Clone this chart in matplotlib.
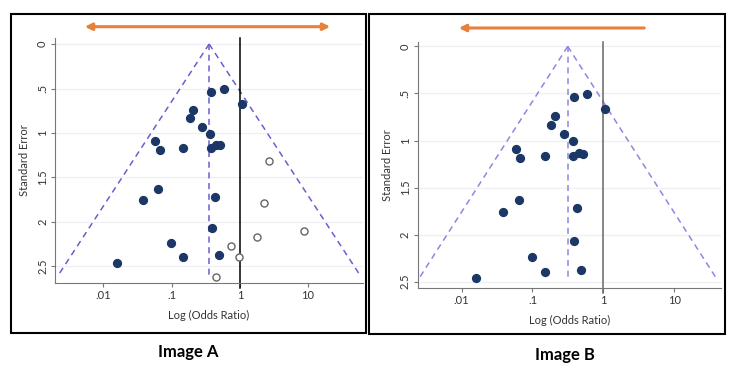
import numpy as np
import matplotlib.pyplot as plt
from matplotlib.patches import Rectangle, FancyArrowPatch

plt.rcParams['font.family'] = ['Lato', 'DejaVu Sans']

# observed studies (odds ratio, standard error) - shown in both panels
study_or = [0.38, 0.585, 1.07, 0.205, 0.184, 0.277, 0.37, 0.058, 0.067, 0.148, 0.377,
            0.453, 0.508, 0.064, 0.038, 0.43, 0.39, 0.098, 0.149, 0.49, 0.016]
study_se = [0.54, 0.51, 0.67, 0.74, 0.83, 0.93, 1.01, 1.085, 1.19, 1.165, 1.165,
            1.135, 1.14, 1.635, 1.755, 1.72, 2.07, 2.24, 2.395, 2.375, 2.465]

# imputed (filled) studies - panel A only
filled_or = [2.72, 2.25, 8.6, 1.76, 0.755, 0.966, 0.45]
filled_se = [1.318, 1.783, 2.10, 2.17, 2.273, 2.397, 2.614]

pooled_a = 0.355
pooled_b = 0.314

xticks = [0.01, 0.1, 1, 10]
xtick_labels = ['.01', '.1', '1', '10']
yticks = [0, 0.5, 1, 1.5, 2, 2.5]
ytick_labels = ['0', '.5', '1', '1.5', '2', '2.5']

fig = plt.figure(figsize=(7.37, 3.75), dpi=100)
W, H = 737, 375


def fig_rect(x0, y0, x1, y1):
    # pixel box (top-left origin) -> figure fraction
    return [x0 / W, 1 - y1 / H, (x1 - x0) / W, (y1 - y0) / H]


def funnel(ax, pooled, se_max, xlim, ylim, funnel_color, ref_color):
    se = np.array([0, se_max])
    ax.plot(np.exp(np.log(pooled) - 1.96 * se), se, ls=(0, (4, 3)), color=funnel_color, lw=1.1)
    ax.plot(np.exp(np.log(pooled) + 1.96 * se), se, ls=(0, (4, 3)), color=funnel_color, lw=1.1)
    ax.plot([pooled, pooled], [0, se_max], ls=(0, (4, 3)), color=funnel_color, lw=1.1)
    ax.axvline(1, color=ref_color, lw=1.1, ymin=-0.02, clip_on=False)
    ax.set_xscale('log')
    ax.set_xlim(*xlim)
    ax.set_ylim(*ylim)
    ax.set_xticks(xticks)
    ax.set_xticklabels(xtick_labels)
    ax.minorticks_off()
    ax.set_yticks(yticks)
    ax.set_yticklabels(ytick_labels, rotation=90, va='center')
    ax.grid(axis='y', color='#eef1f4', lw=1)
    ax.set_axisbelow(True)
    for s in ['top', 'right']:
        ax.spines[s].set_visible(False)
    for s in ['left', 'bottom']:
        ax.spines[s].set_color('#777777')
    ax.tick_params(length=3, color='#777777', labelsize=8, pad=2, labelcolor='#333333')
    ax.set_xlabel('Log (Odds Ratio)', fontsize=8, color='#333333', labelpad=6)
    ax.set_ylabel('Standard Error', fontsize=8, color='#333333', labelpad=5)


# panel A
fig.add_artist(Rectangle((11 / W, 1 - 333 / H), 355 / W, 319 / H, transform=fig.transFigure,
                         fill=False, ec='black', lw=1.5))
ax1 = fig.add_axes(fig_rect(55, 37.8, 363, 283.3))
funnel(ax1, pooled_a, max(filled_se), (0.00195, 64), (2.69, -0.07), '#6a5fd0', 'black')
ax1.scatter(study_or, study_se, s=32, color='#1c3766', zorder=3)
ax1.scatter(filled_or, filled_se, s=26, facecolor='white', edgecolor='#666666', lw=1, zorder=3)
fig.text(188 / W, 1 - 352 / H, 'Image A', ha='center', va='center', fontsize=12, fontweight='bold')
fig.add_artist(FancyArrowPatch((82 / W, 1 - 26.7 / H), (333 / W, 1 - 26.7 / H),
                               transform=fig.transFigure, arrowstyle='<|-|>',
                               mutation_scale=10, color='#e8803a', lw=2.2))

# panel B
fig.add_artist(Rectangle((369 / W, 1 - 334 / H), 356 / W, 320 / H, transform=fig.transFigure,
                         fill=False, ec='black', lw=1.5))
ax2 = fig.add_axes(fig_rect(417.7, 41.7, 721, 288.3))
funnel(ax2, pooled_b, max(study_se), (0.0024, 45.7), (2.57, -0.05), '#8f86e0', '#666666')
ax2.scatter(study_or, study_se, s=32, color='#1c3766', zorder=3)
fig.text(565 / W, 1 - 355 / H, 'Image B', ha='center', va='center', fontsize=12, fontweight='bold')
fig.add_artist(FancyArrowPatch((647 / W, 1 - 28 / H), (456 / W, 1 - 28 / H),
                               transform=fig.transFigure, arrowstyle='-|>',
                               mutation_scale=10, color='#e8803a', lw=2.2))

fig.savefig('out.png', dpi=100)
